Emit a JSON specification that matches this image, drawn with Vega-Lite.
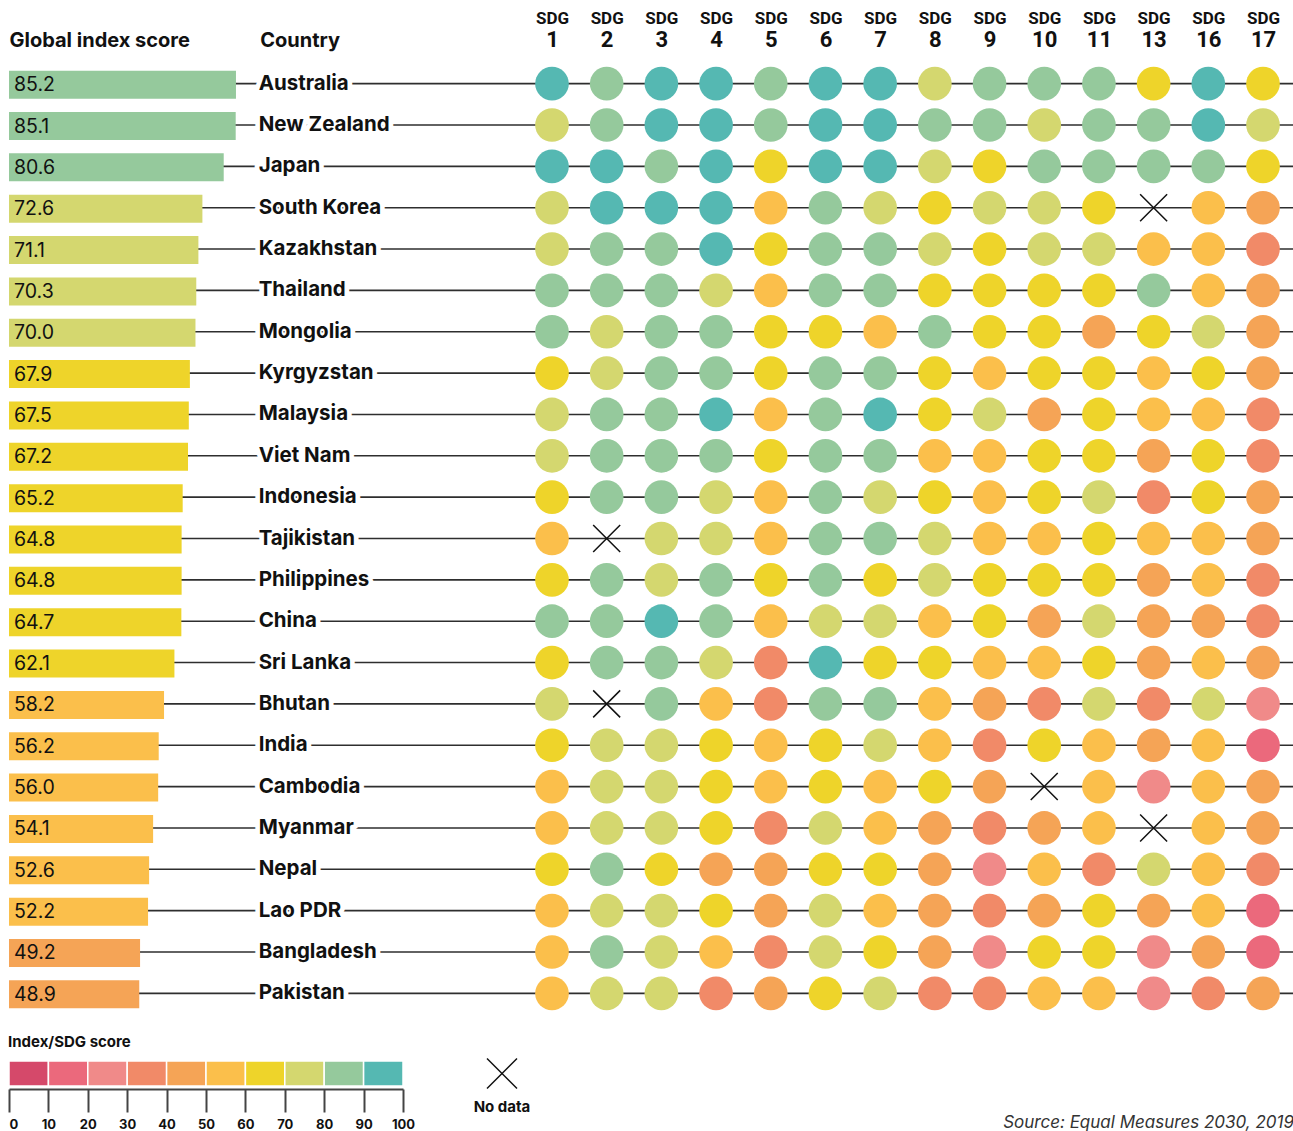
{
  "$schema": "https://vega.github.io/schema/vega-lite/v6.json",
  "background": "white",
  "padding": {"left": 8, "top": 9, "right": 0, "bottom": 0},
  "config": {
    "view": {"stroke": null},
    "font": "Inter",
    "title": {"font": "Inter", "color": "#111"}
  },
  "datasets": {
    "main": [
      {"country": "Australia", "index": 85.2, "1": 95, "2": 85, "3": 95, "4": 95, "5": 85, "6": 95, "7": 95, "8": 75, "9": 85, "10": 85, "11": 85, "13": 65, "16": 95, "17": 65},
      {"country": "New Zealand", "index": 85.1, "1": 75, "2": 85, "3": 95, "4": 95, "5": 85, "6": 95, "7": 95, "8": 85, "9": 85, "10": 75, "11": 85, "13": 85, "16": 95, "17": 75},
      {"country": "Japan", "index": 80.6, "1": 95, "2": 95, "3": 85, "4": 95, "5": 65, "6": 95, "7": 95, "8": 75, "9": 65, "10": 85, "11": 85, "13": 85, "16": 85, "17": 65},
      {"country": "South Korea", "index": 72.6, "1": 75, "2": 95, "3": 95, "4": 95, "5": 55, "6": 85, "7": 75, "8": 65, "9": 75, "10": 75, "11": 65, "13": null, "16": 55, "17": 45},
      {"country": "Kazakhstan", "index": 71.1, "1": 75, "2": 85, "3": 85, "4": 95, "5": 65, "6": 85, "7": 85, "8": 75, "9": 65, "10": 75, "11": 75, "13": 55, "16": 55, "17": 35},
      {"country": "Thailand", "index": 70.3, "1": 85, "2": 85, "3": 85, "4": 75, "5": 55, "6": 85, "7": 85, "8": 65, "9": 65, "10": 65, "11": 65, "13": 85, "16": 55, "17": 45},
      {"country": "Mongolia", "index": 70.0, "1": 85, "2": 75, "3": 85, "4": 85, "5": 65, "6": 65, "7": 55, "8": 85, "9": 65, "10": 65, "11": 45, "13": 65, "16": 75, "17": 45},
      {"country": "Kyrgyzstan", "index": 67.9, "1": 65, "2": 75, "3": 85, "4": 85, "5": 65, "6": 85, "7": 85, "8": 65, "9": 55, "10": 65, "11": 65, "13": 55, "16": 65, "17": 45},
      {"country": "Malaysia", "index": 67.5, "1": 75, "2": 85, "3": 85, "4": 95, "5": 55, "6": 85, "7": 95, "8": 65, "9": 75, "10": 45, "11": 65, "13": 55, "16": 55, "17": 35},
      {"country": "Viet Nam", "index": 67.2, "1": 75, "2": 85, "3": 85, "4": 85, "5": 65, "6": 85, "7": 85, "8": 55, "9": 55, "10": 65, "11": 65, "13": 45, "16": 65, "17": 35},
      {"country": "Indonesia", "index": 65.2, "1": 65, "2": 85, "3": 85, "4": 75, "5": 55, "6": 85, "7": 75, "8": 65, "9": 55, "10": 65, "11": 75, "13": 35, "16": 65, "17": 45},
      {"country": "Tajikistan", "index": 64.8, "1": 55, "2": null, "3": 75, "4": 75, "5": 55, "6": 85, "7": 85, "8": 75, "9": 55, "10": 55, "11": 65, "13": 55, "16": 55, "17": 45},
      {"country": "Philippines", "index": 64.8, "1": 65, "2": 85, "3": 75, "4": 85, "5": 65, "6": 85, "7": 65, "8": 75, "9": 65, "10": 65, "11": 65, "13": 45, "16": 55, "17": 35},
      {"country": "China", "index": 64.7, "1": 85, "2": 85, "3": 95, "4": 85, "5": 55, "6": 75, "7": 75, "8": 55, "9": 65, "10": 45, "11": 75, "13": 45, "16": 45, "17": 35},
      {"country": "Sri Lanka", "index": 62.1, "1": 65, "2": 85, "3": 85, "4": 75, "5": 35, "6": 95, "7": 65, "8": 65, "9": 55, "10": 55, "11": 65, "13": 45, "16": 55, "17": 45},
      {"country": "Bhutan", "index": 58.2, "1": 75, "2": null, "3": 85, "4": 55, "5": 35, "6": 85, "7": 85, "8": 55, "9": 45, "10": 35, "11": 75, "13": 35, "16": 75, "17": 25},
      {"country": "India", "index": 56.2, "1": 65, "2": 75, "3": 75, "4": 65, "5": 55, "6": 65, "7": 75, "8": 55, "9": 35, "10": 65, "11": 55, "13": 45, "16": 55, "17": 15},
      {"country": "Cambodia", "index": 56.0, "1": 55, "2": 75, "3": 75, "4": 65, "5": 55, "6": 65, "7": 55, "8": 65, "9": 45, "10": null, "11": 55, "13": 25, "16": 55, "17": 45},
      {"country": "Myanmar", "index": 54.1, "1": 55, "2": 75, "3": 75, "4": 65, "5": 35, "6": 75, "7": 55, "8": 45, "9": 35, "10": 45, "11": 55, "13": null, "16": 55, "17": 45},
      {"country": "Nepal", "index": 52.6, "1": 65, "2": 85, "3": 65, "4": 45, "5": 45, "6": 65, "7": 65, "8": 45, "9": 25, "10": 55, "11": 35, "13": 75, "16": 55, "17": 35},
      {"country": "Lao PDR", "index": 52.2, "1": 55, "2": 75, "3": 75, "4": 65, "5": 45, "6": 75, "7": 55, "8": 45, "9": 35, "10": 45, "11": 65, "13": 45, "16": 55, "17": 15},
      {"country": "Bangladesh", "index": 49.2, "1": 55, "2": 85, "3": 75, "4": 55, "5": 35, "6": 75, "7": 65, "8": 45, "9": 25, "10": 65, "11": 65, "13": 25, "16": 45, "17": 15},
      {"country": "Pakistan", "index": 48.9, "1": 55, "2": 75, "3": 75, "4": 35, "5": 45, "6": 65, "7": 75, "8": 35, "9": 35, "10": 55, "11": 55, "13": 25, "16": 35, "17": 45}
    ],
    "bins": [
      {"lo": 0, "hi": 10}, {"lo": 10, "hi": 20}, {"lo": 20, "hi": 30}, {"lo": 30, "hi": 40}, {"lo": 40, "hi": 50},
      {"lo": 50, "hi": 60}, {"lo": 60, "hi": 70}, {"lo": 70, "hi": 80}, {"lo": 80, "hi": 90}, {"lo": 90, "hi": 100}
    ]
  },
  "spacing": 21,
  "vconcat": [
    {
      "spacing": 0,
      "bounds": "flush",
      "hconcat": [
        {
          "width": 516,
          "height": 951,
          "data": {"name": "main"},
          "encoding": {
            "y": {"field": "country", "type": "nominal", "sort": null, "axis": null,
                  "scale": {"type": "band", "paddingInner": 0, "paddingOuter": 0}}
          },
          "layer": [
            {"mark": {"type": "rule", "color": "#2e2e2e", "strokeWidth": 1.6}, "encoding": {}},
            {
              "mark": {"type": "bar", "size": 28, "yOffset": 1},
              "encoding": {
                "x": {"field": "index", "type": "quantitative",
                      "scale": {"domain": [0, 193.7], "nice": false, "zero": true},
                      "axis": {"orient": "top", "values": [0, 94.1], "title": null,
                               "labelExpr": "datum.value == 0 ? 'Global index score' : 'Country'",
                               "labelAlign": "left", "labelBaseline": "alphabetic", "labelLimit": 0,
                               "labelFont": "Inter", "labelFontWeight": "bold", "labelFontSize": 20,
                               "labelColor": "#111", "labelPadding": 17, "labelOverlap": false,
                               "labelFlush": false, "ticks": false, "tickSize": 0, "domain": false, "grid": false}},
                "color": {"field": "index", "type": "quantitative", "legend": null,
                          "scale": {"type": "threshold", "domain": [10, 20, 30, 40, 50, 60, 70, 80, 90],
                                    "range": ["#d5496a", "#eb697c", "#f08a89", "#f18a68", "#f5a456", "#fbbf4b", "#eed42a", "#d4d76f", "#95c99c", "#55b8b2"]}}
              }
            },
            {
              "mark": {"type": "text", "align": "left", "baseline": "middle", "dx": 5, "dy": 1.5, "fontSize": 19.5, "font": "Inter", "color": "#111"},
              "encoding": {
                "x": {"datum": 0, "type": "quantitative"},
                "text": {"field": "index", "type": "quantitative", "format": ".1f"}
              }
            },
            {
              "mark": {"type": "text", "align": "left", "baseline": "middle", "dx": -1, "fontSize": 20.5, "font": "Inter", "fontWeight": "bold", "fill": "white", "stroke": "white", "strokeWidth": 9.5, "strokeJoin": "round"},
              "encoding": {
                "x": {"datum": 94.1, "type": "quantitative"},
                "text": {"field": "country"}
              }
            },
            {
              "mark": {"type": "text", "align": "left", "baseline": "middle", "dx": -1, "fontSize": 20.5, "font": "Inter", "fontWeight": "bold", "color": "#111"},
              "encoding": {
                "x": {"datum": 94.1, "type": "quantitative"},
                "text": {"field": "country"}
              }
            }
          ]
        },
        {
          "width": 769,
          "height": 951,
          "data": {"name": "main"},
          "encoding": {
            "y": {"field": "country", "type": "nominal", "sort": null, "axis": null,
                  "scale": {"type": "band", "paddingInner": 0, "paddingOuter": 0}}
          },
          "layer": [
            {"mark": {"type": "rule", "color": "#2e2e2e", "strokeWidth": 1.6}, "encoding": {}},
            {
              "transform": [
                {"fold": ["1", "2", "3", "4", "5", "6", "7", "8", "9", "10", "11", "13", "16", "17"], "as": ["sdg", "score"]},
                {"filter": "datum.score != null"}
              ],
              "mark": {"type": "circle", "size": 1134, "opacity": 1},
              "encoding": {
                "x": {"field": "sdg", "type": "ordinal",
                      "scale": {"type": "point", "domain": ["1", "2", "3", "4", "5", "6", "7", "8", "9", "10", "11", "13", "16", "17"], "padding": 0.53, "align": 0.4655},
                      "axis": {"orient": "top", "title": null, "labelAngle": 0, "labelBaseline": "alphabetic",
                               "labelFont": "Roboto", "labelFontWeight": "bold", "labelFontSize": 22, "labelColor": "#111",
                               "labelPadding": 17, "ticks": false, "tickSize": 0, "domain": false, "grid": false}},
                "color": {"field": "score", "type": "quantitative", "legend": null,
                          "scale": {"type": "threshold", "domain": [10, 20, 30, 40, 50, 60, 70, 80, 90],
                                    "range": ["#d5496a", "#eb697c", "#f08a89", "#f18a68", "#f5a456", "#fbbf4b", "#eed42a", "#d4d76f", "#95c99c", "#55b8b2"]}}
              }
            },
            {
              "transform": [
                {"fold": ["1", "2", "3", "4", "5", "6", "7", "8", "9", "10", "11", "13", "16", "17"], "as": ["sdg", "score"]},
                {"filter": "datum.score == null"}
              ],
              "mark": {"type": "point", "shape": "M-1,-1L1,1M1,-1L-1,1", "size": 729, "filled": false, "stroke": "#111", "strokeWidth": 1.5, "opacity": 1},
              "encoding": {
                "x": {"field": "sdg", "type": "ordinal",
                      "scale": {"type": "point", "domain": ["1", "2", "3", "4", "5", "6", "7", "8", "9", "10", "11", "13", "16", "17"], "padding": 0.53, "align": 0.4655},
                      "axis": {"orient": "top", "title": null, "labelAngle": 0, "labelBaseline": "alphabetic",
                               "labelExpr": "'SDG'",
                               "labelFont": "Roboto", "labelFontWeight": "bold", "labelFontSize": 17, "labelColor": "#111",
                               "labelPadding": 40, "ticks": false, "tickSize": 0, "domain": false, "grid": false}}
              }
            }
          ],
          "resolve": {"scale": {"x": "independent"}, "axis": {"x": "independent"}}
        }
      ]
    },
    {
      "spacing": 69,
      "bounds": "flush",
      "hconcat": [
        {
          "width": 394,
          "height": 25,
          "title": {"text": "Index/SDG score", "anchor": "start", "fontSize": 15, "fontWeight": "bold", "offset": 10},
          "data": {"name": "bins"},
          "mark": {"type": "rect", "stroke": "white", "strokeWidth": 1.5},
          "encoding": {
            "x": {"field": "lo", "type": "quantitative",
                  "scale": {"domain": [0, 100], "nice": false},
                  "axis": {"orient": "bottom", "values": [0, 10, 20, 30, 40, 50, 60, 70, 80, 90, 100], "title": null,
                           "offset": 3, "tickSize": 23, "tickWidth": 2, "tickColor": "#444",
                           "domain": true, "domainWidth": 2, "domainColor": "#444", "grid": false,
                           "labelFont": "Inter", "labelFontWeight": "bold", "labelFontSize": 13, "labelColor": "#111",
                           "labelPadding": 6, "labelFlush": false, "labelOverlap": false,
                           "labelAlign": {"condition": {"test": "datum.value === 0", "value": "left"}, "value": "center"}}},
            "x2": {"field": "hi"},
            "color": {"field": "lo", "type": "quantitative", "legend": null,
                      "scale": {"type": "threshold", "domain": [10, 20, 30, 40, 50, 60, 70, 80, 90],
                                "range": ["#d5496a", "#eb697c", "#f08a89", "#f18a68", "#f5a456", "#fbbf4b", "#eed42a", "#d4d76f", "#95c99c", "#55b8b2"]}}
          }
        },
        {
          "width": 60,
          "height": 25,
          "title": {"text": "No data", "orient": "bottom", "anchor": "middle", "fontSize": 15, "fontWeight": "bold", "offset": 8},
          "data": {"values": [{"label": "No data"}]},
          "mark": {"type": "point", "shape": "M-1,-1L1,1M1,-1L-1,1", "size": 900, "filled": false, "stroke": "#111", "strokeWidth": 1.5, "opacity": 1},
          "encoding": {}
        },
        {
          "width": 693,
          "height": 25,
          "title": {"text": "Source: Equal Measures 2030, 2019", "orient": "bottom", "anchor": "end", "fontSize": 17, "fontWeight": "normal", "fontStyle": "italic", "color": "#333", "offset": 29},
          "data": {"values": []},
          "mark": {"type": "point", "opacity": 0},
          "encoding": {}
        }
      ]
    }
  ]
}
